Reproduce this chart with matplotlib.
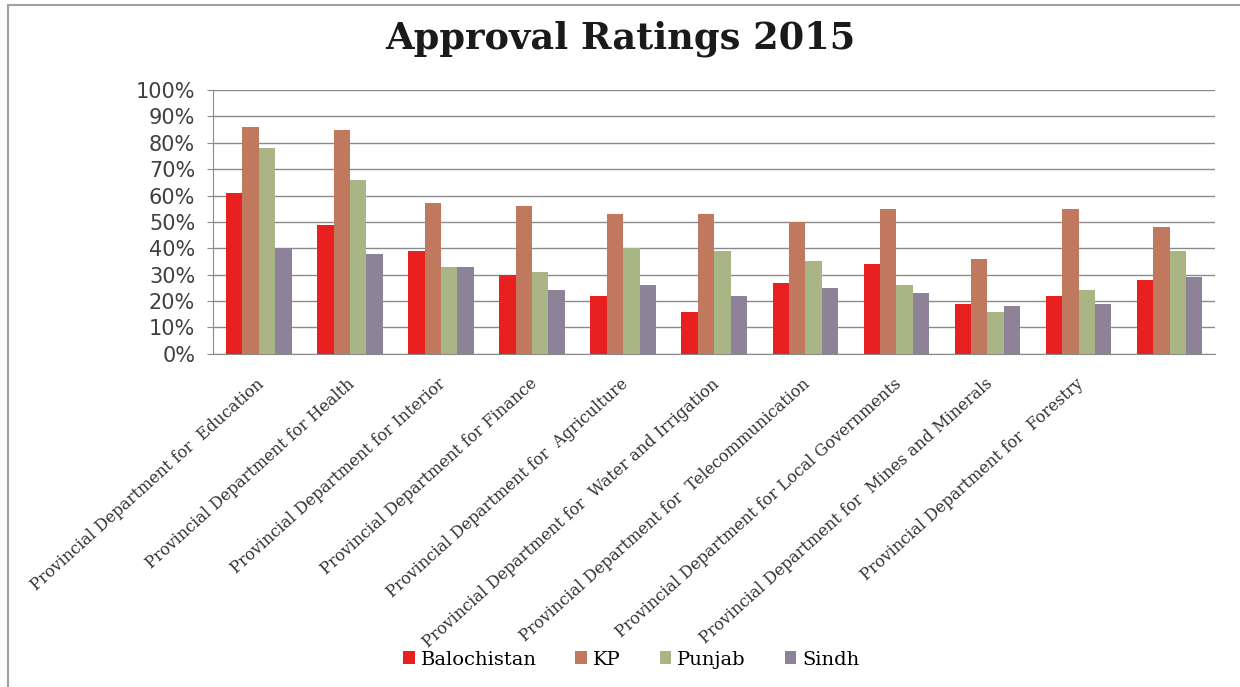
import numpy as np
import matplotlib
matplotlib.use("Agg")
import matplotlib.pyplot as plt
from matplotlib.lines import Line2D
from matplotlib.ticker import PercentFormatter

# data (percent)
departments = [
    "Provincial Department for  Education",
    "Provincial Department for Health",
    "Provincial Department for Interior",
    "Provincial Department for Finance",
    "Provincial Department for  Agriculture",
    "Provincial Department for  Water and Irrigation",
    "Provincial Department for  Telecommunication",
    "Provincial Department for Local Governments",
    "Provincial Department for  Mines and Minerals",
    "Provincial Department for  Forestry",
    "",
]
balochistan = [61, 49, 39, 30, 22, 16, 27, 34, 19, 22, 28]
kp = [86, 85, 57, 56, 53, 53, 50, 55, 36, 55, 48]
punjab = [78, 66, 33, 31, 40, 39, 35, 26, 16, 24, 39]
sindh = [40, 38, 33, 24, 26, 22, 25, 23, 18, 19, 29]

series = [("Balochistan", balochistan), ("KP", kp), ("Punjab", punjab), ("Sindh", sindh)]
colors = ["#e8201f", "#c0785e", "#a9b584", "#8e8299"]

fig = plt.figure(figsize=(12.4, 6.87), dpi=100)
# chart frame (left and top edges only, like the cropped screenshot)
fig.add_artist(Line2D([0.0065, 0.0065], [0.0, 0.993], transform=fig.transFigure,
                      color="#a0a0a0", linewidth=1.5))
fig.add_artist(Line2D([0.0065, 1.0], [0.993, 0.993], transform=fig.transFigure,
                      color="#a0a0a0", linewidth=1.5))

ax = fig.add_axes([0.172, 0.485, 0.808, 0.384])

x = np.arange(len(departments))
w = 0.18
for i, (name, vals) in enumerate(series):
    ax.bar(x + (i - 1.5) * w, vals, width=w, color=colors[i], label=name, zorder=3)

ax.set_xlim(-0.5, len(departments) - 0.5)
ax.set_ylim(0, 100)
ax.set_yticks(np.arange(0, 101, 10))
ax.yaxis.set_major_formatter(PercentFormatter(decimals=0))
ax.grid(axis="y", color="#8a8a8a", linewidth=1.0, zorder=0)

for s in ["top", "right"]:
    ax.spines[s].set_visible(False)
ax.spines["left"].set_color("#8a8a8a")
ax.spines["bottom"].set_color("#8a8a8a")

ax.tick_params(axis="y", length=4, color="#8a8a8a", labelsize=15,
               labelcolor="#404040", pad=9)
ax.tick_params(axis="x", length=0, pad=20)

ax.set_xticks(x + 0.03)
ax.set_xticklabels(departments, rotation=42, ha="right", va="center",
                   rotation_mode="anchor", family="DejaVu Serif", fontsize=11.6,
                   color="#333333")

fig.text(0.5, 0.930, "Approval Ratings 2015", ha="center", va="baseline",
         family="DejaVu Serif", fontweight="bold", fontsize=26.5, color="#1a1a1a")

fig.legend(loc="center", bbox_to_anchor=(0.509, 0.04), ncol=4, frameon=False,
           prop={"family": "DejaVu Serif", "size": 14},
           handlelength=0.6, handleheight=0.6, handletextpad=0.3, columnspacing=2.0)

fig.savefig("out.png", dpi=100)
